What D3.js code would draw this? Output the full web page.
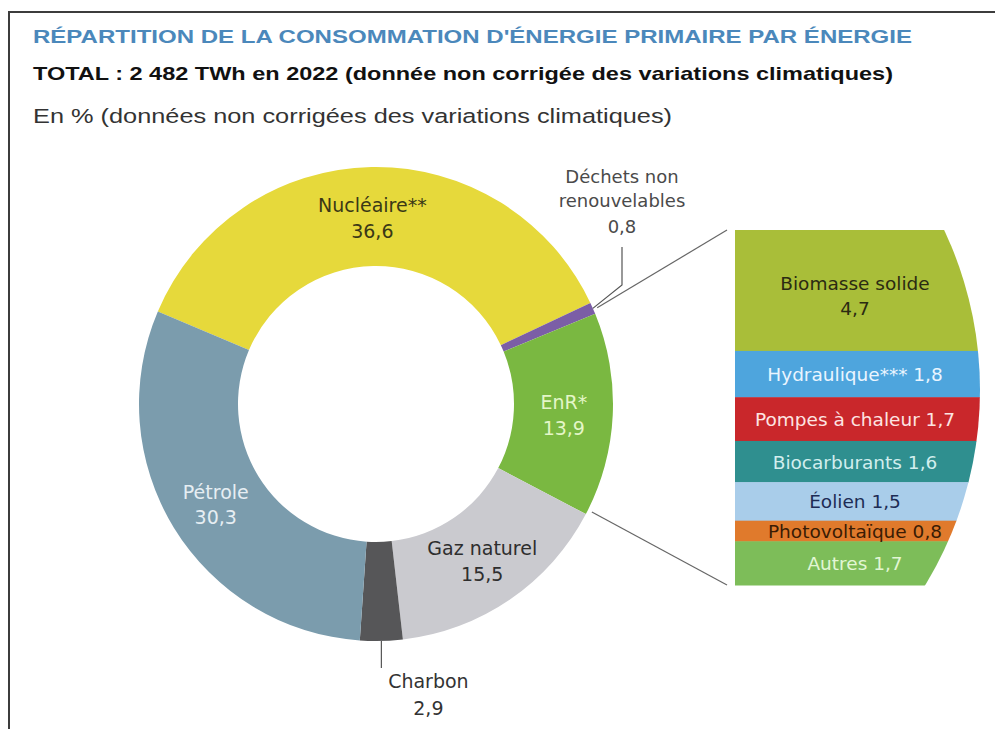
<!doctype html>
<html lang="fr">
<head>
	<meta charset="utf-8">
	<title>Répartition de la consommation d'énergie primaire</title>
	<style>
		body { margin: 0; background: #fff; }
		svg text { font-family: "DejaVu Sans", "Liberation Sans", Arial, sans-serif; }
		svg text.head { font-family: "Liberation Sans", Arial, sans-serif; }
		.frame { stroke: #3c3c3c; stroke-width: 2; fill: none; }
		.leader { stroke: #555; stroke-width: 1.2; fill: none; }
		.connector { stroke: #666; stroke-width: 1.2; fill: none; }
	</style>
</head>
<body>
<div id="viz"></div>

<script src="https://cdnjs.cloudflare.com/ajax/libs/d3/7.8.5/d3.min.js"></script>
<script>

// DATA (en %, données non corrigées des variations climatiques)
var energies = ["Nucléaire**", "Déchets non renouvelables", "EnR*", "Gaz naturel", "Charbon", "Pétrole"];
var parts = [36.6, 0.8, 13.9, 15.5, 2.9, 30.3];

var renewables = ["Biomasse solide", "Hydraulique***", "Pompes à chaleur", "Biocarburants", "Éolien", "Photovoltaïque", "Autres"];
var renewableParts = [4.7, 1.8, 1.7, 1.6, 1.5, 0.8, 1.7];

// TEXTS
var title = "RÉPARTITION DE LA CONSOMMATION D'ÉNERGIE PRIMAIRE PAR ÉNERGIE";
var subtitle = "TOTAL : 2 482 TWh en 2022 (donnée non corrigée des variations climatiques)";
var unit = "En % (données non corrigées des variations climatiques)";

(function(scope, d3) {

	// Dimensions
	var w = 995,
		h = 729;

	var fmt = function(v) { return d3.format(".1f")(v).replace(".", ","); };

	// COLORS
	var donutColors = d3.scaleOrdinal()
		.domain(energies)
		.range(["#e6d93b", "#7b5ea6", "#7ab841", "#cacacf", "#565658", "#7b9cad"]);
	var donutText = d3.scaleOrdinal()
		.domain(energies)
		.range(["#3a3816", "#444", "#e4f6c8", "#2e2e2e", "#333", "#e6eef3"]);

	var barColors = d3.scaleOrdinal()
		.domain(renewables)
		.range(["#a9be39", "#4ea5dd", "#c9272b", "#2f8f8f", "#a9cdea", "#e07a2c", "#7dbd59"]);
	var barText = d3.scaleOrdinal()
		.domain(renewables)
		.range(["#2b2b12", "#eaf5ff", "#fde4e2", "#d2eeee", "#1d2c55", "#3a1c04", "#e2f6d4"]);

	// DRAWING AREA
	var svg = d3.select("#viz")
		.append("svg")
		.attr("width", w)
		.attr("height", h)
		.attr("viewBox", "0 0 " + w + " " + h);

	svg.append("rect").attr("width", w).attr("height", h).attr("fill", "#fff");

	// frame (top and left rule)
	svg.append("path")
		.attr("class", "frame")
		.attr("d", "M9," + h + "V12H" + w);

	// TITLES
	svg.append("text")
		.attr("class", "head")
		.attr("x", 33).attr("y", 43)
		.attr("fill", "#4b88bb")
		.attr("font-weight", "bold")
		.attr("font-size", 18.5)
		.attr("textLength", 879)
		.attr("lengthAdjust", "spacingAndGlyphs")
		.text(title);

	svg.append("text")
		.attr("class", "head")
		.attr("x", 33).attr("y", 80)
		.attr("fill", "#111")
		.attr("font-weight", "bold")
		.attr("font-size", 19)
		.attr("textLength", 860)
		.attr("lengthAdjust", "spacingAndGlyphs")
		.text(subtitle);

	svg.append("text")
		.attr("class", "head")
		.attr("x", 33).attr("y", 123)
		.attr("fill", "#333")
		.attr("font-size", 20.5)
		.attr("textLength", 639)
		.attr("lengthAdjust", "spacingAndGlyphs")
		.text(unit);

	// DONUT
	var cx = 376,
		cy = 404,
		outerR = 237,
		innerR = 138;

	var rows = energies.map(function(name, i) { return { name: name, value: parts[i] }; });

	var start = -67 * Math.PI / 180;
	var pie = d3.pie()
		.sort(null)
		.startAngle(start)
		.endAngle(start + 2 * Math.PI)
		.value(function(d) { return d.value; });

	var arcs = pie(rows);

	var arc = d3.arc()
		.innerRadius(innerR)
		.outerRadius(outerR);

	var labelArc = d3.arc()
		.innerRadius(188)
		.outerRadius(188);

	var donut = svg.append("g")
		.attr("transform", "translate(" + cx + "," + cy + ")");

	donut.selectAll("path")
		.data(arcs)
		.enter()
		.append("path")
		.attr("d", arc)
		.attr("fill", function(d) { return donutColors(d.data.name); });

	// point on the outer edge for a given angle
	function edge(a, r) {
		return [Math.sin(a) * r, -Math.cos(a) * r];
	}

	// inside labels
	var inside = arcs.filter(function(d) { return d.data.value > 10; });

	var lab = donut.selectAll("text.inside")
		.data(inside)
		.enter()
		.append("text")
		.attr("class", "inside")
		.attr("text-anchor", "middle")
		.attr("font-size", 19)
		.attr("fill", function(d) { return donutText(d.data.name); })
		.attr("transform", function(d) { return "translate(" + labelArc.centroid(d) + ")"; });

	lab.append("tspan").attr("x", 0).attr("dy", "-0.2em").text(function(d) { return d.data.name; });
	lab.append("tspan").attr("x", 0).attr("dy", "1.35em").text(function(d) { return fmt(d.data.value); });

	// Déchets non renouvelables : outside, above
	var dechets = arcs[1];
	var dMid = (dechets.startAngle + dechets.endAngle) / 2;
	var dEdge = edge(dMid, outerR);
	var dx = 622 - cx;

	donut.append("path")
		.attr("class", "leader")
		.attr("d", d3.line()([[dx, 247 - cy], [dx, 285 - cy], dEdge]));

	var dLab = donut.append("text")
		.attr("text-anchor", "middle")
		.attr("font-size", 18)
		.attr("fill", "#4a4a4a")
		.attr("x", dx)
		.attr("y", 183 - cy);
	dLab.append("tspan").attr("x", dx).text("Déchets non");
	dLab.append("tspan").attr("x", dx).attr("dy", "1.35em").text("renouvelables");
	dLab.append("tspan").attr("x", dx).attr("dy", "1.4em").text(fmt(dechets.data.value));

	// Charbon : outside, below
	var charbon = arcs[4];
	var cMid = (charbon.startAngle + charbon.endAngle) / 2;
	var cEdge = edge(cMid, outerR);

	donut.append("path")
		.attr("class", "leader")
		.attr("d", d3.line()([cEdge, [cEdge[0], cEdge[1] + 27]]));

	var cLab = donut.append("text")
		.attr("text-anchor", "middle")
		.attr("font-size", 19)
		.attr("fill", "#333")
		.attr("y", cEdge[1] + 47);
	cLab.append("tspan").attr("x", cEdge[0] + 47).text(charbon.data.name);
	cLab.append("tspan").attr("x", cEdge[0] + 47).attr("dy", "1.4em").text(fmt(charbon.data.value));

	// RENEWABLES BAR
	var barX = 735,
		barW = 250,
		barTop = 230,
		barBottom = 585;

	var y = d3.scaleLinear()
		.domain([0, d3.sum(renewableParts)])
		.range([barTop, barBottom]);

	var stacked = [];
	var acc = 0;
	renewables.forEach(function(name, i) {
		stacked.push({ name: name, value: renewableParts[i], y0: acc, y1: acc + renewableParts[i] });
		acc += renewableParts[i];
	});

	// right side of the bar is cut by a large circle
	svg.append("clipPath")
		.attr("id", "barClip")
		.append("circle")
		.attr("cx", 605)
		.attr("cy", 390)
		.attr("r", 375);

	var bar = svg.append("g")
		.attr("clip-path", "url(#barClip)");

	bar.selectAll("rect")
		.data(stacked)
		.enter()
		.append("rect")
		.attr("x", barX)
		.attr("width", barW)
		.attr("y", function(d) { return y(d.y0); })
		.attr("height", function(d) { return y(d.y1) - y(d.y0) + 0.5; })
		.attr("fill", function(d) { return barColors(d.name); });

	var bl = svg.selectAll("text.bar")
		.data(stacked)
		.enter()
		.append("text")
		.attr("class", "bar")
		.attr("text-anchor", "middle")
		.attr("font-size", 18.5)
		.attr("fill", function(d) { return barText(d.name); })
		.attr("x", 855)
		.attr("y", function(d) { return (y(d.y0) + y(d.y1)) / 2; });

	bl.each(function(d, i) {
		var t = d3.select(this);
		if (i === 0) {
			t.append("tspan").attr("x", 855).attr("dy", "-0.05em").text(d.name);
			t.append("tspan").attr("x", 855).attr("dy", "1.35em").text(fmt(d.value));
		} else {
			t.append("tspan").attr("x", 855).attr("dy", "0.38em").text(d.name + " " + fmt(d.value));
		}
	});

	// connectors from EnR slice to the bar
	var enr = arcs[2];
	var p1 = edge(enr.startAngle, outerR),
		p2 = edge(enr.endAngle, outerR);

	svg.append("path")
		.attr("class", "connector")
		.attr("d", d3.line()([[cx + p1[0] + 2, cy + p1[1] - 6], [barX - 8, barTop]]));

	svg.append("path")
		.attr("class", "connector")
		.attr("d", d3.line()([[cx + p2[0] + 6, cy + p2[1] - 2], [barX - 8, barBottom]]));

})(window, d3);

</script>
</body>
</html>
